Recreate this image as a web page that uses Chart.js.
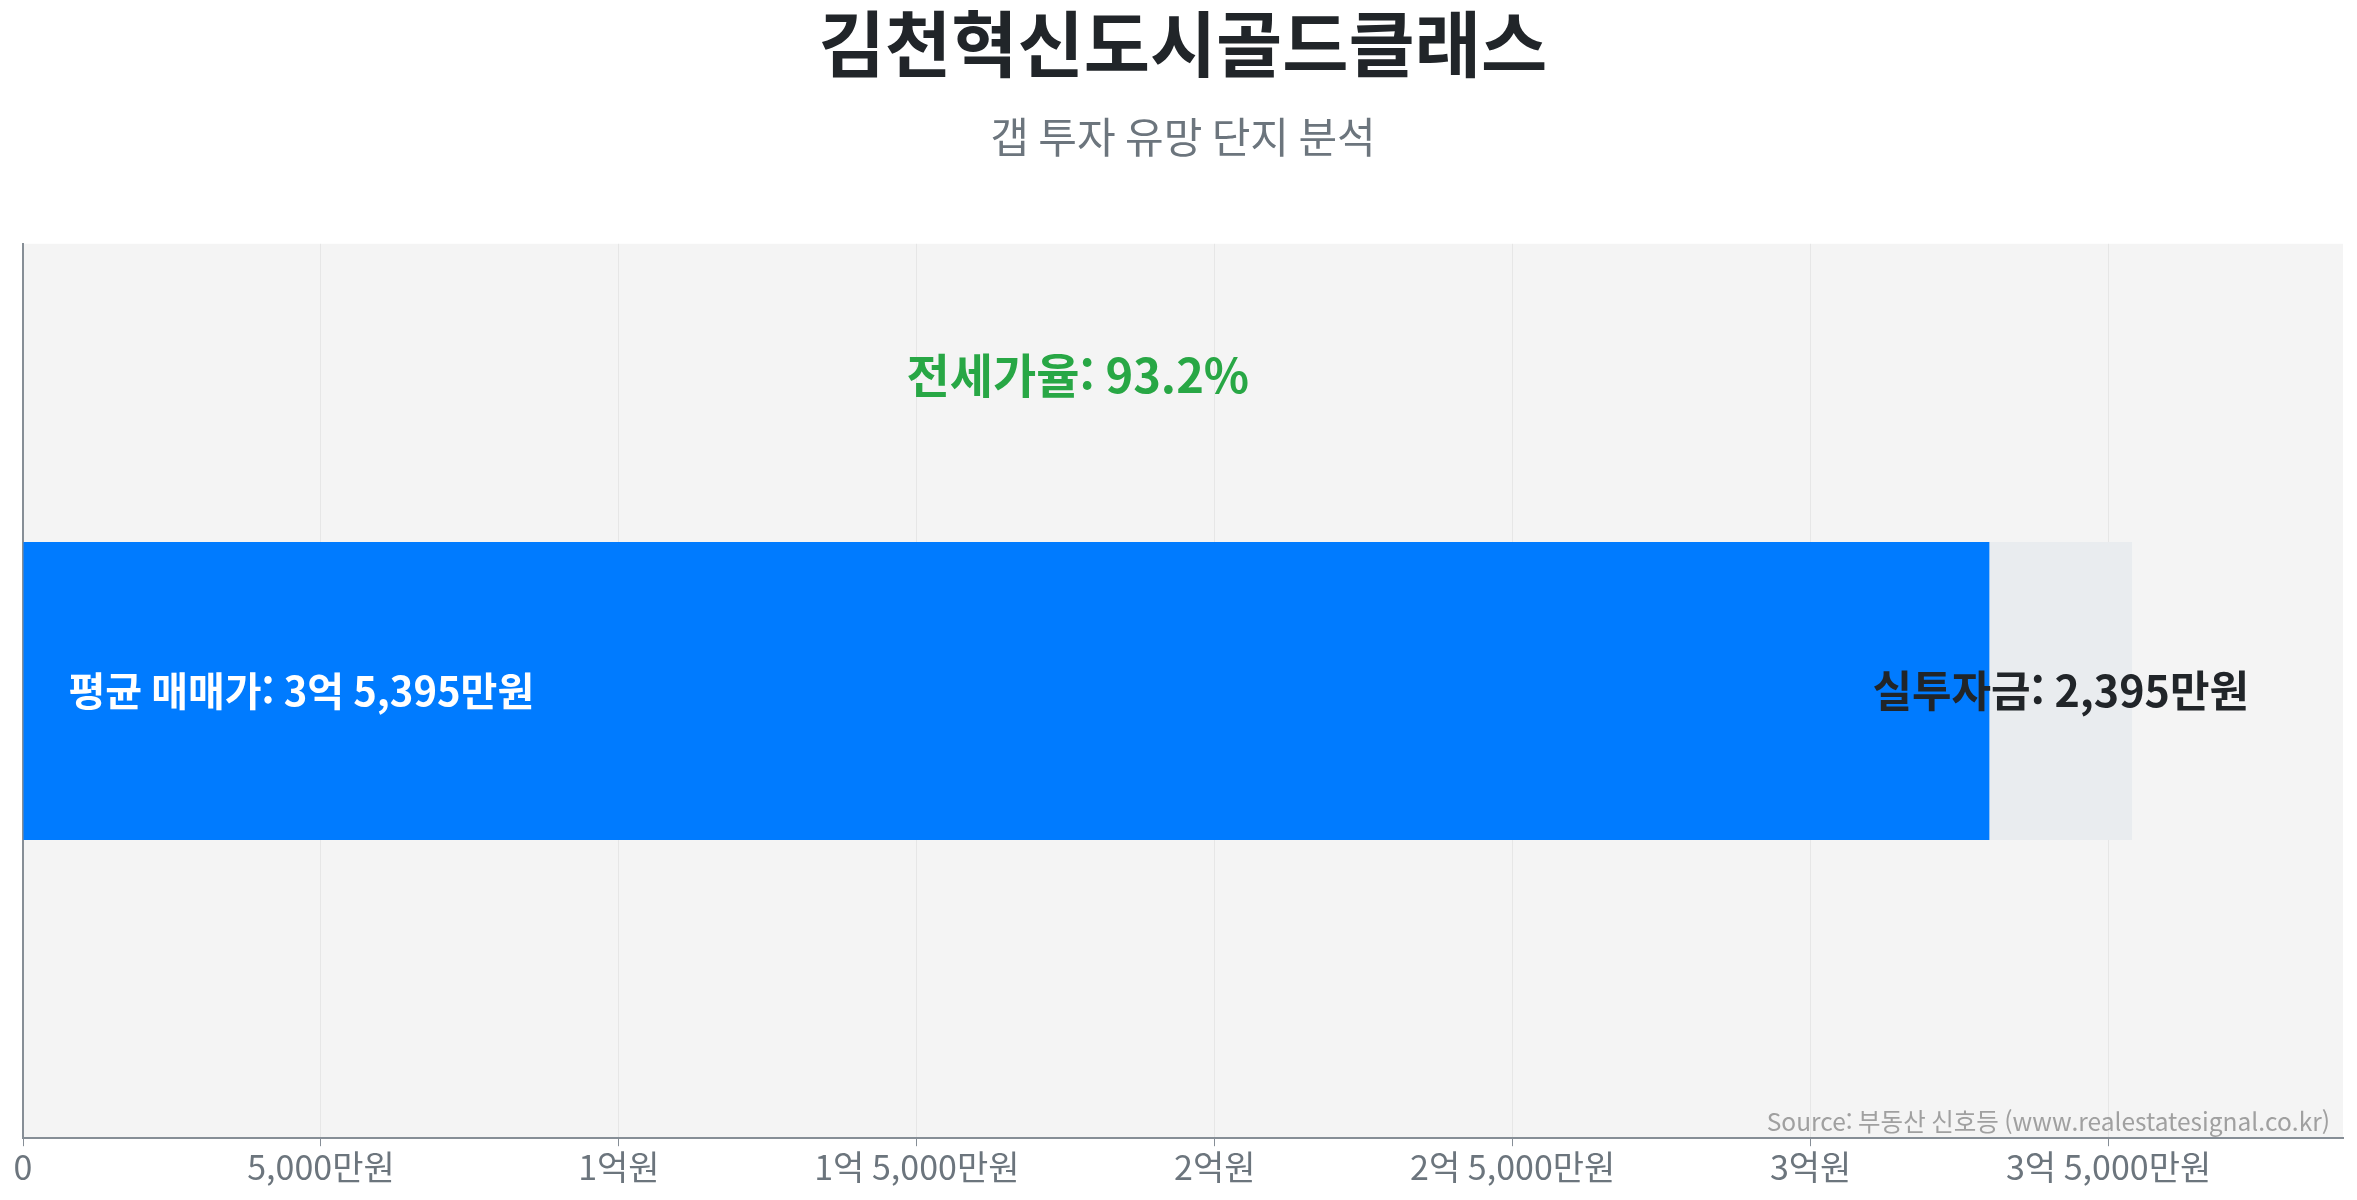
<!DOCTYPE html>
<html lang="ko">
<head>
<meta charset="utf-8">
<title>김천혁신도시골드클래스</title>
<script src="https://cdn.jsdelivr.net/npm/chart.js@4.4.1/dist/chart.umd.min.js"></script>
<style>
  html, body { margin: 0; padding: 0; background: #ffffff; }
  #wrap { width: 2357px; height: 1200px; position: relative; }
</style>
</head>
<body>
<div id="wrap"><canvas id="gap-chart"></canvas></div>
<script>
// 단지 / 값 (단위: 만원)
const categories = ['김천혁신도시골드클래스'];
const jeonseValues = [33000];   // 전세가
const gapValues = [2395];       // 실투자금 (매매가 - 전세가)
const jeonseRatio = [93.2];     // 전세가율 (%)
const tickValues = [0, 5000, 10000, 15000, 20000, 25000, 30000, 35000];

const salePrice = jeonseValues[0] + gapValues[0];

// 만원 단위 -> "1억 5,000만원"
function formatManwon(value) {
    if (value === 0) return '0';
    const eok = Math.floor(value / 10000);
    const man = Math.round(value % 10000);
    if (eok > 0 && man > 0) return eok + '억 ' + man.toLocaleString() + '만원';
    if (eok > 0) return eok + '억원';
    return man.toLocaleString() + '만원';
}

const FONT = "'Noto Sans CJK KR', 'Noto Sans', sans-serif";
Chart.defaults.font.family = FONT;

// 플롯 배경
const plotBackground = {
    id: 'plotBackground',
    beforeDraw(chart) {
        const { ctx, chartArea } = chart;
        ctx.save();
        ctx.fillStyle = '#f4f4f4';
        ctx.fillRect(chartArea.left, chartArea.top, chartArea.right - chartArea.left, chartArea.bottom - chartArea.top);
        ctx.restore();
    }
};

// 막대 위 텍스트
const barLabels = {
    id: 'barLabels',
    afterDatasetsDraw(chart) {
        const { ctx, chartArea } = chart;
        const jeonseBar = chart.getDatasetMeta(0).data[0];
        const gapBar = chart.getDatasetMeta(1).data[0];
        if (!jeonseBar || !gapBar) return;

        ctx.save();
        ctx.textBaseline = 'middle';

        // 평균 매매가 (파란 막대 왼쪽)
        ctx.fillStyle = '#ffffff';
        ctx.textAlign = 'left';
        ctx.font = 'bold 40px ' + FONT;
        ctx.fillText('평균 매매가: ' + formatManwon(salePrice), jeonseBar.base + 45, jeonseBar.y);

        // 실투자금 (회색 구간 가운데)
        ctx.fillStyle = '#212529';
        ctx.textAlign = 'center';
        ctx.font = 'bold 43px ' + FONT;
        ctx.fillText('실투자금: ' + formatManwon(gapValues[0]), (gapBar.base + gapBar.x) / 2, gapBar.y);

        // 전세가율 (막대 위)
        ctx.fillStyle = '#28a745';
        ctx.font = 'bold 47px ' + FONT;
        const top = jeonseBar.y - jeonseBar.height / 2;
        ctx.fillText('전세가율: ' + jeonseRatio[0].toFixed(1) + '%', (jeonseBar.base + gapBar.x) / 2, top - jeonseBar.height * 0.56);

        // 출처
        ctx.fillStyle = '#a0a0a0';
        ctx.textAlign = 'right';
        ctx.textBaseline = 'bottom';
        ctx.font = '24.5px ' + FONT;
        ctx.fillText('Source: 부동산 신호등 (www.realestatesignal.co.kr)', chartArea.right - 13, chartArea.bottom - 4);
        ctx.restore();
    }
};

new Chart(document.getElementById('gap-chart'), {
    type: 'bar',
    data: {
        labels: categories,
        datasets: [
            {
                label: '전세가',
                data: jeonseValues,
                backgroundColor: '#007bff',
                borderWidth: 0
            },
            {
                label: '실투자금',
                data: gapValues,
                backgroundColor: '#e9ecef',
                borderWidth: 0
            }
        ]
    },
    options: {
        indexAxis: 'y',
        responsive: true,
        maintainAspectRatio: false,
        animation: false,
        datasets: {
            bar: {
                categoryPercentage: 1,
                barPercentage: 1 / 3
            }
        },
        layout: {
            padding: { left: 23, right: 14, top: 0, bottom: 13 }
        },
        plugins: {
            legend: { display: false },
            tooltip: { enabled: false },
            title: {
                display: true,
                text: '김천혁신도시골드클래스',
                color: '#212529',
                font: { size: 72, weight: 'bold' },
                padding: { top: 0, bottom: 10 }
            },
            subtitle: {
                display: true,
                text: '갭 투자 유망 단지 분석',
                color: '#6c757d',
                font: { size: 42, weight: 'normal' },
                padding: { top: 15, bottom: 82 }
            }
        },
        scales: {
            x: {
                stacked: true,
                min: 0,
                max: salePrice * 1.1,
                afterBuildTicks: function(scale) {
                    scale.ticks = tickValues.map(function(v) { return { value: v }; });
                },
                border: { display: true, color: '#868e96', width: 2 },
                grid: {
                    color: '#e6e6e6',
                    lineWidth: 1,
                    drawTicks: true,
                    tickLength: 8,
                    tickColor: '#868e96'
                },
                ticks: {
                    color: '#6c757d',
                    padding: 0,
                    font: { size: 34 },
                    maxRotation: 0,
                    autoSkip: false,
                    callback: function(value) {
                        return formatManwon(value);
                    }
                }
            },
            y: {
                stacked: true,
                border: { display: true, color: '#868e96', width: 2 },
                grid: { display: false, drawTicks: false },
                ticks: { display: false }
            }
        }
    },
    plugins: [plotBackground, barLabels]
});
</script>
</body>
</html>
